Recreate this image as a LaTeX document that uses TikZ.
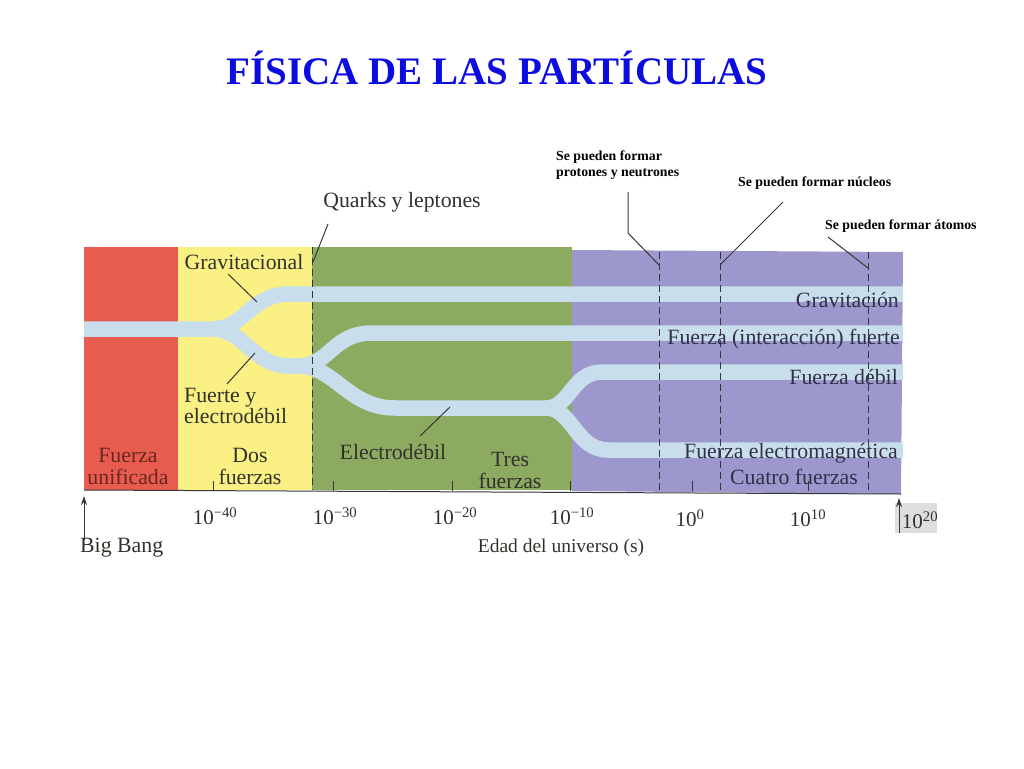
\documentclass[tikz,border=0pt]{standalone}
\usepackage{fontspec}
\setmainfont{Liberation Serif}
\usetikzlibrary{arrows.meta}
\definecolor{titleblue}{RGB}{12,12,222}
\definecolor{redr}{RGB}{232,92,80}
\definecolor{yellowr}{RGB}{250,240,132}
\definecolor{greenr}{RGB}{140,170,96}
\definecolor{purpler}{RGB}{156,152,205}
\definecolor{bandc}{RGB}{200,222,236}
\definecolor{txtgray}{RGB}{50,50,44}
\definecolor{txtred}{RGB}{105,38,30}
\definecolor{txtpur}{RGB}{50,48,72}
\definecolor{linegray}{RGB}{55,55,55}
\definecolor{boxgray}{RGB}{222,222,222}
\tikzset{
  booktxt/.style={font=\fontsize{21.8}{22}\selectfont, text=txtgray, inner sep=0pt, align=center},
  axtxt/.style={font=\fontsize{21}{22}\selectfont, text=txtgray, inner sep=0pt},
  notetxt/.style={font=\bfseries\fontsize{13.8}{16}\selectfont, text=black, inner sep=0pt, align=left},
  band/.style={draw=bandc, line width=15.5pt},
  leader/.style={draw=linegray, line width=1pt},
  dashv/.style={draw=linegray, line width=1pt, dash pattern=on 7pt off 4pt},
  tick/.style={draw=linegray, line width=1pt}
}
\begin{document}
\begin{tikzpicture}[x=1pt,y=-1pt]
\useasboundingbox (0,0) rectangle (1024,768);
% title
\node[font=\bfseries\fontsize{39}{44}\selectfont, text=titleblue, inner sep=0pt] (title) at (497,68) {FÍSICA DE LAS PARTÍCULAS};
% regions
\fill[redr] (84,247) rectangle (178,490);
\fill[yellowr] (178,247) rectangle (312,490);
\fill[greenr] (312,247) rectangle (572,490);
\fill[purpler] (572,250) -- (903,252) -- (901,494) -- (572,491) -- cycle;
% bands
\begin{scope}[line cap=butt]
\draw[band] (84,329) -- (212,329) .. controls (245,329) and (250,294) .. (290,294) -- (903,294);
\draw[band] (212,329) .. controls (245,329) and (252,366) .. (290,366) -- (300,366);
\draw[band] (298,366) .. controls (330,366) and (332,333) .. (372,333) -- (903,333);
\draw[band] (298,366) .. controls (335,366) and (348,408) .. (395,408) -- (548,408);
\draw[band] (546,408) .. controls (570,408) and (572,372) .. (602,372) -- (903,372);
\draw[band] (546,408) .. controls (572,408) and (576,450) .. (608,450) -- (903,450);
\end{scope}
% dashed lines
\coordinate (q1) at (312,247); \coordinate (q2) at (312,490);
\coordinate (p1) at (659,252); \coordinate (p2) at (659,492);
\coordinate (n1) at (720,252); \coordinate (n2) at (720,492);
\coordinate (a1) at (868,252); \coordinate (a2) at (868,494);
\draw[dashv] (q1) -- (q2);
\draw[dashv] (p1) -- (p2);
\draw[dashv] (n1) -- (n2);
\draw[dashv] (a1) -- (a2);
% axis
\coordinate (ax0) at (84,490); \coordinate (ax1) at (901,494);
\draw[tick] (ax0) -- (ax1);
\foreach \xx in {213,333,452,570,692,808} {\draw[tick] (\xx,491) -- (\xx,481);}
% annotations top right
\node[notetxt, anchor=north west] (npro) at (556,151) {Se pueden formar\\protones y neutrones};
\node[notetxt, anchor=west] (nnuc) at (738,183) {Se pueden formar núcleos};
\node[notetxt, anchor=west] (nato) at (825,226) {Se pueden formar átomos};
\coordinate (lp0) at (628,192); \coordinate (lp1) at (628,233); \coordinate (lp2) at (659,265);
\draw[leader] (lp0) -- (lp1) -- (lp2);
\coordinate (ln0) at (783,202); \coordinate (ln1) at (720,265);
\draw[leader] (ln0) -- (ln1);
\coordinate (la0) at (828,237); \coordinate (la1) at (868,268);
\draw[leader] (la0) -- (la1);
% book labels
\node[booktxt] (quarks) at (402,202) {Quarks y leptones};
\coordinate (lq0) at (328,224); \coordinate (lq1) at (313,262);
\draw[leader] (lq0) -- (lq1);
\node[booktxt] (grav) at (244,262) {Gravitacional};
\coordinate (lg0) at (228,274); \coordinate (lg1) at (257,302);
\draw[leader] (lg0) -- (lg1);
\node[booktxt, anchor=west, align=left, font=\fontsize{21.8}{20.5}\selectfont] (fye) at (184,406) {Fuerte y\\electrodébil};
\coordinate (lf0) at (227,384); \coordinate (lf1) at (255,353);
\draw[leader] (lf0) -- (lf1);
\node[booktxt, text=txtred] (unif) at (128,466) {Fuerza\\unificada};
\node[booktxt] (dos) at (250,466) {Dos\\fuerzas};
\node[booktxt] (elec) at (393,452) {Electrodébil};
\coordinate (le0) at (420,436); \coordinate (le1) at (450,407);
\draw[leader] (le0) -- (le1);
\node[booktxt] (tres) at (510,470) {Tres\\fuerzas};
\node[booktxt, text=txtpur, anchor=east] (gravn) at (899,300) {Gravitación};
\node[booktxt, text=txtpur, anchor=east] (fuerte) at (900,339) {Fuerza (interacción) fuerte};
\node[booktxt, text=txtpur, anchor=east] (debil) at (898,377) {Fuerza débil};
\node[booktxt, text=txtpur, anchor=east] (em) at (898,453) {Fuerza electromagnética};
\node[booktxt, text=txtpur] (cuatro) at (794,477) {Cuatro fuerzas};
% axis labels
\node[axtxt] (t40) at (215,516) {10\textsuperscript{−40}};
\node[axtxt] (t30) at (335,516) {10\textsuperscript{−30}};
\node[axtxt] (t20) at (455,516) {10\textsuperscript{−20}};
\node[axtxt] (t10) at (572,516) {10\textsuperscript{−10}};
\node[axtxt] (t0) at (690,518) {10\textsuperscript{0}};
\node[axtxt] (t10p) at (808,518) {10\textsuperscript{10}};
\node[fill=boxgray, minimum width=42pt, minimum height=30pt, inner sep=0pt] (box20) at (916,518) {};
\node[axtxt] (t20p) at (920,520) {10\textsuperscript{20}};
\coordinate (bb0) at (84,540); \coordinate (bb1) at (84,496);
\draw[leader, -{Stealth[length=9pt,width=6pt]}] (bb0) -- (bb1);
\coordinate (r0) at (899,533); \coordinate (r1) at (899,498);
\draw[leader, -{Stealth[length=9pt,width=6pt]}] (r0) -- (r1);
\node[booktxt, anchor=west] (bigbang) at (80,548) {Big Bang};
\node[booktxt, font=\fontsize{19.5}{22}\selectfont] (edad) at (561,548) {Edad del universo (s)};
\end{tikzpicture}
\end{document}
